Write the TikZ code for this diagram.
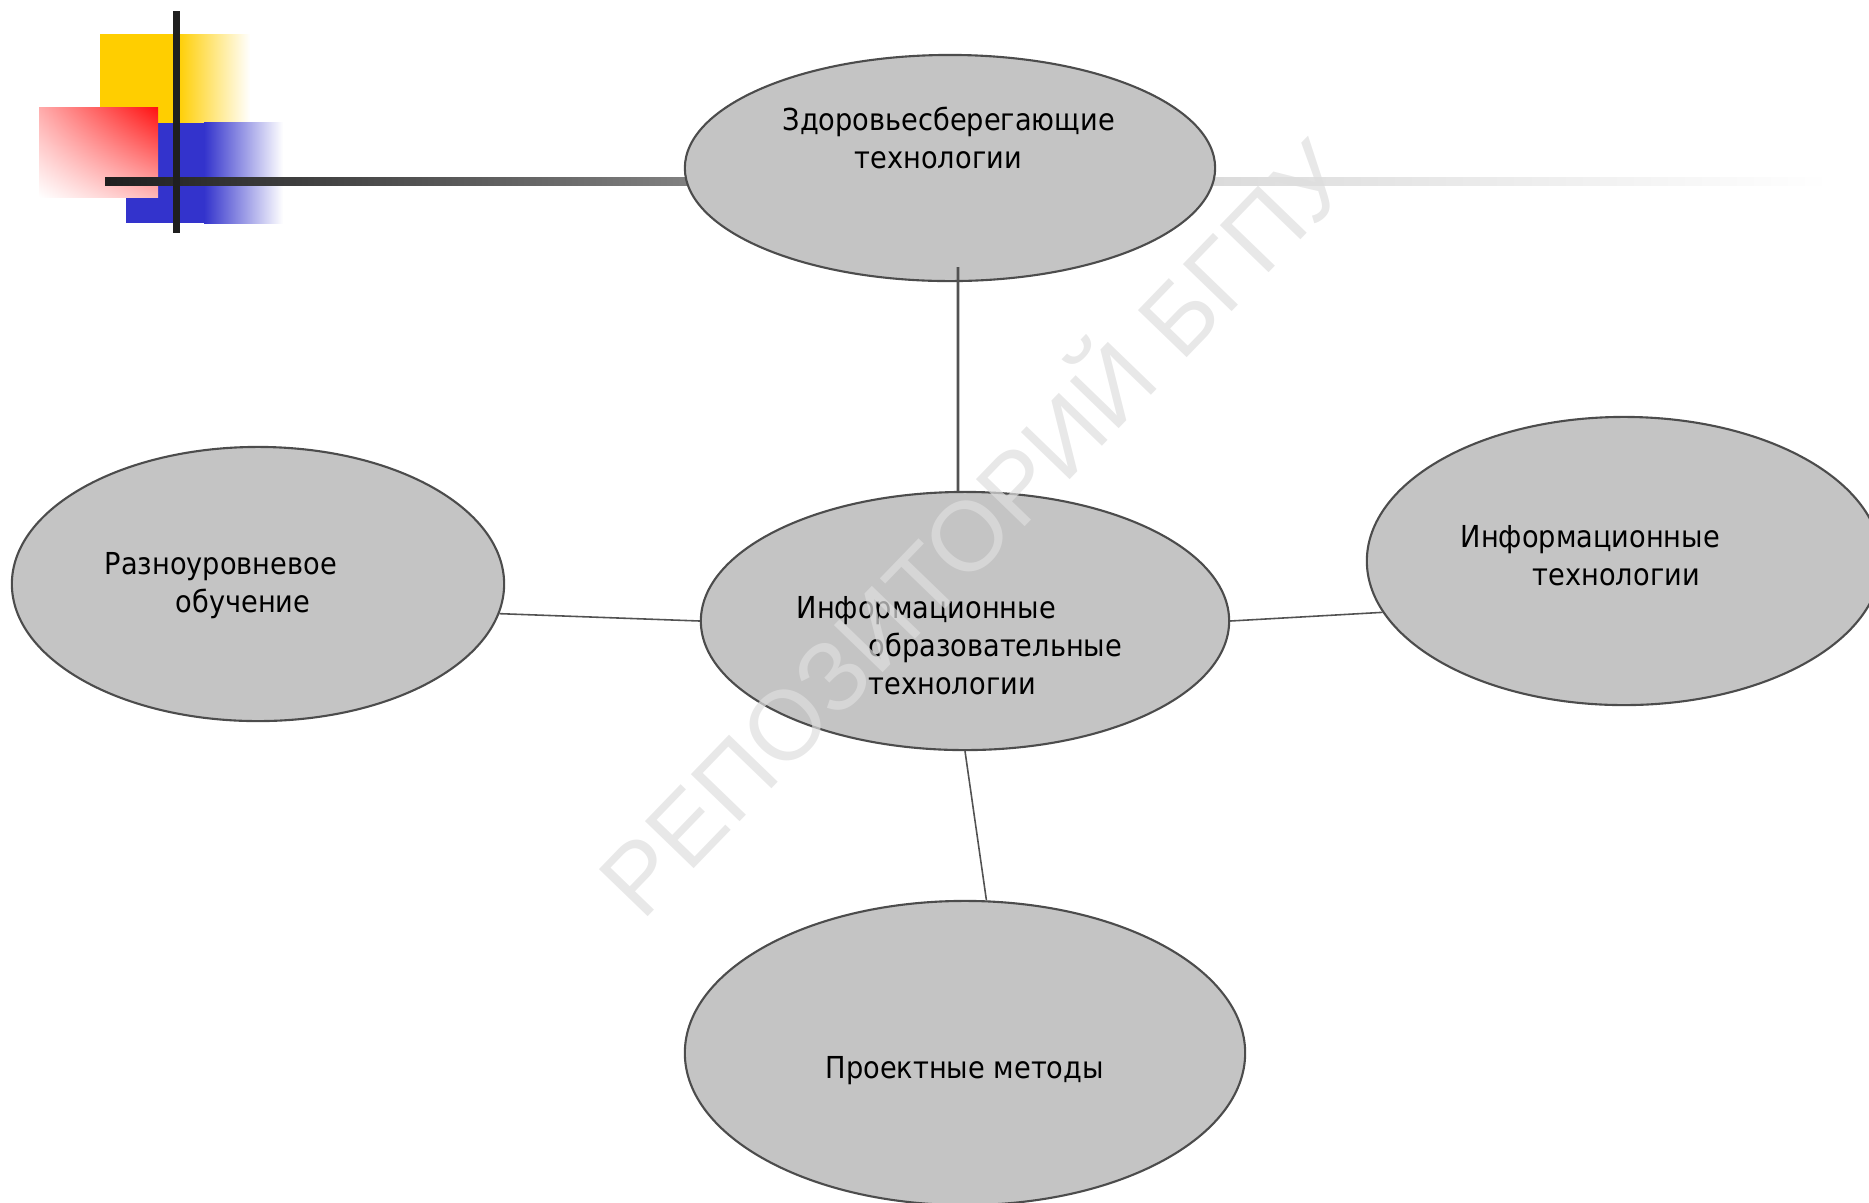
\documentclass[tikz,border=0pt]{standalone}
\usepackage{fontspec}
\setmainfont{DejaVu Sans}[FakeStretch=0.9]
\newfontfamily\markFont{Liberation Sans}
\usetikzlibrary{shapes.geometric,shadings}
\definecolor{ovalGray}{HTML}{C4C4C4}
\definecolor{yellowFill}{HTML}{FFCE00}
\definecolor{blueFill}{HTML}{3333CC}
\definecolor{redFill}{HTML}{FF1010}
\begin{document}
\begin{tikzpicture}[x=0.01cm, y=-0.01cm,
    ovalStyle/.style={ellipse, draw=black!70, line width=0.6pt, fill=ovalGray, inner sep=0pt},
    textStyle/.style={anchor=base west, align=left, inner sep=0pt, font=\fontsize{8.6pt}{10.8pt}\selectfont},
    linkStyle/.style={draw=black!68, line width=0.45pt}]
    \useasboundingbox (0,0) rectangle (1869,1202);

    \fill[yellowFill] (100,34) rectangle (177,123);
    \shade[left color=yellowFill, right color=white] (177,34) rectangle (250,123);
    \fill[blueFill] (126,123) rectangle (204,223);
    \shade[left color=blueFill, right color=white] (204,122) rectangle (283,223);
    \shade[upper right=redFill, upper left=redFill!35, lower right=redFill!30, lower left=white] (39,107) rectangle (158,197);
    \shade[left color=black!88, right color=black!49] (105,177) rectangle (700,185);
    \shade[left color=black!49, right color=black!14] (700,177) rectangle (1220,185);
    \shade[left color=black!14, right color=white] (1220,177) rectangle (1830,185);
    \fill[black!88] (173,11) rectangle (180,233);

    \node[ovalStyle, minimum width=5.3cm, minimum height=2.26cm](health) at (950, 168) {};
    \node[ovalStyle, minimum width=5.28cm, minimum height=2.58cm](core) at (965, 621) {};
    \node[ovalStyle, minimum width=4.92cm, minimum height=2.74cm](level) at (258, 584) {};
    \node[ovalStyle, minimum width=5.14cm, minimum height=2.88cm](info) at (1624, 561) {};
    \node[ovalStyle, minimum width=5.6cm, minimum height=3.04cm](project) at (965, 1053) {};

    \draw[linkStyle, line width=0.8pt] ([xshift=0.08cm, yshift=0.15cm]health.south) -- ([xshift=-0.07cm]core.north);
    \draw[linkStyle] (level.-7) -- (core.west);
    \draw[linkStyle] (core.east) -- (info.192);
    \draw[linkStyle] (core.south) -- (project.82);

    \node[textStyle](healthText) at (782, 168) {Здоровьесберегающие\\\hspace*{20.5pt}технологии};
    \node[textStyle](coreText) at (796, 694) {Информационные\\\hspace*{20.5pt}образовательные\\\hspace*{20.5pt}технологии};
    \node[textStyle](levelText) at (104, 612) {Разноуровневое\\\hspace*{20.2pt}обучение};
    \node[textStyle](infoText) at (1460, 585) {Информационные\\\hspace*{20.5pt}технологии};
    \node[textStyle](projectText) at (825, 1078) {Проектные методы};

    \node[rotate=46, text=black!13, opacity=0.7, font=\markFont\fontsize{28pt}{28pt}\selectfont](mark) at (968, 522) {РЕПОЗИТОРИЙ БГПУ};
\end{tikzpicture}
\end{document}
